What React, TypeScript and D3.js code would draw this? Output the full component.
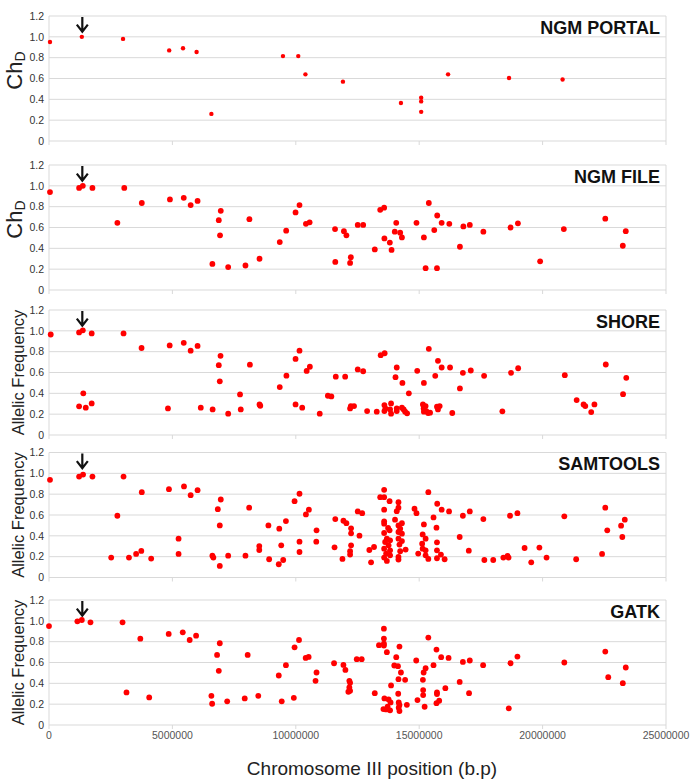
import * as d3 from 'd3';

// x positions in Mb along chromosome III, y = ChD / allelic frequency
const xTicks = [0, 5000000, 10000000, 15000000, 20000000, 25000000];
const yTicks = [0, 0.2, 0.4, 0.6, 0.8, 1.0, 1.2];
const arrowPos = 1.35;

const ngmPortal: [number, number][] = [
  [0.04, 0.95], [1.33, 1.0], [3.0, 0.98], [4.87, 0.87], [5.43, 0.89], [5.98, 0.855], [6.58, 0.26],
  [9.48, 0.815], [10.1, 0.815], [10.39, 0.64], [11.91, 0.57], [14.26, 0.365], [15.08, 0.415],
  [15.08, 0.38], [15.08, 0.28], [16.17, 0.64], [18.64, 0.605], [20.81, 0.59],
];

const ngmFile: [number, number][] = [
  [0.04, 0.94], [1.22, 0.98], [1.37, 1.0], [1.76, 0.98], [2.77, 0.645], [3.05, 0.98], [3.76, 0.835],
  [4.9, 0.87], [5.46, 0.885], [5.74, 0.815], [6.02, 0.855], [6.62, 0.25], [6.88, 0.67], [6.96, 0.76],
  [6.93, 0.525], [7.26, 0.22], [7.96, 0.235], [8.12, 0.68], [8.53, 0.3], [9.35, 0.46], [9.61, 0.57],
  [9.99, 0.745], [10.15, 0.815], [10.41, 0.635], [10.56, 0.65], [11.59, 0.585], [11.6, 0.27],
  [11.95, 0.565], [12.05, 0.525], [12.23, 0.315], [12.2, 0.26], [12.51, 0.625], [12.73, 0.625],
  [13.2, 0.39], [13.42, 0.77], [13.58, 0.79], [13.59, 0.495], [13.81, 0.455], [13.88, 0.385],
  [14.01, 0.56], [14.07, 0.645], [14.23, 0.55], [14.3, 0.505], [14.89, 0.645], [15.19, 0.505],
  [15.26, 0.21], [15.39, 0.835], [15.61, 0.575], [15.73, 0.715], [15.72, 0.21], [15.91, 0.645],
  [16.22, 0.635], [16.65, 0.415], [16.79, 0.61], [17.05, 0.625], [17.6, 0.56], [18.7, 0.6],
  [19.0, 0.64], [19.9, 0.275], [20.86, 0.585], [22.54, 0.685], [23.25, 0.425], [23.37, 0.565],
];

const shore: [number, number][] = [
  [0.07, 0.965], [1.22, 0.985], [1.37, 1.005], [1.73, 0.975], [3.02, 0.975], [3.75, 0.835],
  [4.89, 0.86], [5.46, 0.885], [5.74, 0.81], [6.02, 0.855], [6.88, 0.67], [6.95, 0.76], [6.92, 0.515],
  [8.14, 0.675], [9.35, 0.46], [9.62, 0.57], [9.99, 0.73], [10.15, 0.81], [10.44, 0.615],
  [10.57, 0.655], [11.62, 0.56], [12.0, 0.56],
  [1.39, 0.4], [1.22, 0.275], [1.49, 0.262], [1.73, 0.303], [4.82, 0.255], [6.15, 0.262],
  [6.63, 0.246], [7.26, 0.205], [7.74, 0.39], [7.77, 0.246], [8.53, 0.294], [8.56, 0.281],
  [9.99, 0.294], [10.26, 0.262], [10.97, 0.205], [11.3, 0.377], [11.44, 0.37],
  [12.51, 0.63], [12.73, 0.612], [13.44, 0.766], [13.6, 0.785], [14.09, 0.648], [14.04, 0.555],
  [14.32, 0.5], [14.58, 0.4], [14.92, 0.616], [15.19, 0.5], [15.39, 0.827], [15.65, 0.568],
  [15.76, 0.712], [15.91, 0.648], [16.25, 0.648], [16.65, 0.447], [16.77, 0.597], [17.09, 0.619],
  [17.63, 0.568], [18.72, 0.597], [19.01, 0.641], [18.37, 0.227], [20.9, 0.574], [21.38, 0.335],
  [21.66, 0.294], [21.73, 0.278], [22.1, 0.294], [21.97, 0.22], [22.56, 0.677], [23.26, 0.392],
  [23.39, 0.549],
  [12.23, 0.278], [12.36, 0.278], [12.2, 0.255], [12.89, 0.23], [13.28, 0.224], [13.59, 0.287],
  [13.59, 0.23], [13.63, 0.255], [13.86, 0.303], [13.82, 0.246], [13.86, 0.205], [14.09, 0.255],
  [14.09, 0.23], [14.3, 0.262], [14.37, 0.246], [14.43, 0.224], [14.51, 0.208], [15.15, 0.294],
  [15.18, 0.255], [15.26, 0.278], [15.29, 0.23], [15.36, 0.211], [15.44, 0.214], [15.19, 0.224],
  [15.72, 0.272], [15.83, 0.278], [15.76, 0.246], [16.34, 0.211],
];

const samtools: [number, number][] = [
  [0.04, 0.938], [1.22, 0.969], [1.38, 0.988], [1.76, 0.969], [2.77, 0.593], [3.02, 0.969],
  [2.52, 0.191], [3.24, 0.191], [3.53, 0.226], [3.74, 0.255], [3.76, 0.819], [4.14, 0.182],
  [4.86, 0.848], [5.25, 0.373], [5.25, 0.226], [5.47, 0.874], [5.74, 0.79], [6.02, 0.838],
  [6.62, 0.21], [6.66, 0.191], [6.84, 0.656], [6.96, 0.749], [6.92, 0.5], [6.92, 0.111],
  [7.26, 0.21], [7.96, 0.21], [8.11, 0.67], [8.52, 0.302], [8.52, 0.264], [8.89, 0.5],
  [8.92, 0.175], [9.33, 0.469], [9.41, 0.309], [9.31, 0.127], [9.49, 0.168], [9.6, 0.542],
  [9.95, 0.733], [10.15, 0.804], [10.15, 0.344], [10.15, 0.245], [10.41, 0.606], [10.53, 0.651],
  [10.84, 0.453], [10.83, 0.344], [11.6, 0.561], [11.57, 0.29], [11.89, 0.178], [11.93, 0.545],
  [12.05, 0.522],
  [12.24, 0.472], [12.24, 0.424], [12.24, 0.309], [12.2, 0.252], [12.2, 0.22], [12.51, 0.634],
  [12.69, 0.618], [12.58, 0.402], [12.98, 0.264], [13.17, 0.293], [13.05, 0.146], [13.42, 0.771],
  [13.58, 0.771], [13.58, 0.842], [13.8, 0.733], [13.58, 0.651], [13.58, 0.539], [13.58, 0.517],
  [13.74, 0.475], [13.8, 0.453], [13.58, 0.427], [13.69, 0.373], [13.82, 0.357], [13.62, 0.341],
  [13.76, 0.309], [13.58, 0.277], [13.82, 0.261], [13.66, 0.23], [13.58, 0.191], [13.69, 0.159],
  [13.82, 0.213], [14.02, 0.555], [14.09, 0.637], [14.16, 0.67], [14.16, 0.723], [14.3, 0.522],
  [14.16, 0.5], [14.23, 0.469], [14.16, 0.437], [14.3, 0.421], [14.16, 0.373], [14.3, 0.35],
  [14.2, 0.316], [14.23, 0.252], [14.16, 0.197], [14.16, 0.172], [14.45, 0.268], [14.81, 0.66],
  [14.89, 0.618], [15.19, 0.51], [15.14, 0.414], [15.26, 0.373], [15.12, 0.325], [15.14, 0.277],
  [15.26, 0.261], [14.96, 0.23], [15.26, 0.213], [15.37, 0.178], [15.37, 0.819], [15.58, 0.577],
  [15.73, 0.708], [15.91, 0.651], [16.21, 0.634], [15.7, 0.478], [15.72, 0.338], [15.72, 0.261],
  [15.88, 0.22], [15.72, 0.185], [16.03, 0.175], [16.64, 0.389], [16.77, 0.593], [17.05, 0.634],
  [17.01, 0.258], [17.6, 0.561], [17.64, 0.168], [18.0, 0.168], [18.41, 0.191], [18.58, 0.207],
  [18.62, 0.191], [18.68, 0.593], [18.98, 0.618], [19.27, 0.283], [19.54, 0.146], [19.87, 0.287],
  [20.16, 0.191], [20.88, 0.587], [21.36, 0.175], [22.41, 0.226], [22.54, 0.67], [22.62, 0.453],
  [23.18, 0.498], [23.23, 0.389], [23.33, 0.555],
];

const gatk: [number, number][] = [
  [0.0, 0.95], [1.15, 0.995], [1.33, 1.008], [1.68, 0.986], [2.98, 0.986], [3.7, 0.829],
  [3.14, 0.313], [4.06, 0.265], [4.85, 0.874], [5.42, 0.89], [5.7, 0.816], [5.96, 0.858],
  [6.58, 0.28], [6.61, 0.204], [6.81, 0.673], [6.92, 0.785], [6.88, 0.52], [7.22, 0.227],
  [7.93, 0.255], [8.05, 0.673], [8.48, 0.28], [9.31, 0.475], [9.43, 0.227], [9.6, 0.574],
  [9.92, 0.261], [9.95, 0.746], [10.13, 0.816], [10.4, 0.644], [10.52, 0.654], [10.84, 0.504],
  [10.8, 0.424], [11.55, 0.593], [11.93, 0.577], [12.01, 0.529],
  [12.17, 0.424], [12.2, 0.405], [12.17, 0.361], [12.2, 0.328], [12.13, 0.319], [12.47, 0.632],
  [12.67, 0.632], [13.2, 0.306], [13.37, 0.766], [13.57, 0.925], [13.57, 0.83], [13.57, 0.782],
  [13.57, 0.763], [13.69, 0.699], [13.99, 0.571], [14.14, 0.565], [14.07, 0.651], [14.2, 0.753],
  [14.26, 0.504], [14.16, 0.44], [14.43, 0.434], [13.86, 0.38], [14.15, 0.3], [13.59, 0.255],
  [13.76, 0.246], [13.84, 0.217], [13.72, 0.175], [13.55, 0.153], [13.66, 0.15], [13.82, 0.141],
  [14.17, 0.217], [14.2, 0.191], [14.17, 0.166], [14.2, 0.134], [14.5, 0.194], [14.88, 0.619],
  [15.37, 0.839], [15.26, 0.545], [15.18, 0.504], [15.15, 0.434], [15.16, 0.335], [15.16, 0.287],
  [14.93, 0.239], [15.22, 0.175], [15.58, 0.574], [15.7, 0.724], [15.89, 0.651], [16.19, 0.644],
  [15.72, 0.313], [15.72, 0.297], [16.06, 0.354], [15.81, 0.233], [15.7, 0.21], [16.64, 0.414],
  [16.77, 0.606], [17.05, 0.619], [17.02, 0.306], [17.59, 0.574], [18.63, 0.16], [18.7, 0.593],
  [18.98, 0.657], [20.88, 0.6], [22.54, 0.705], [22.66, 0.459], [23.25, 0.402], [23.37, 0.552],
];

const panelNames = ['NGM PORTAL', 'NGM FILE', 'SHORE', 'SAMTOOLS', 'GATK'];
const panelData = [ngmPortal, ngmFile, shore, samtools, gatk];
const panelIsChD = [true, true, false, false, false];

const W = 692;
const H = 783;
const left = 49;
const right = 666;
const panelBottoms = [141, 290, 435, 577.5, 725];
const panelH = 125;
const font = '"Liberation Sans", Arial, sans-serif';
const grid = '#d9d9d9';

const x = d3.scaleLinear().domain([0, 25000000]).range([left, right]);

function Panel({ idx }: { idx: number }) {
  const bottom = panelBottoms[idx];
  const y = d3.scaleLinear().domain([0, 1.2]).range([bottom, bottom - panelH]);
  const data = panelData[idx];
  const r = idx === 0 ? 2.2 : 2.9;
  const midY = bottom - panelH / 2;
  const ax = x(arrowPos * 1e6);
  const tip = y(1.05);

  return (
    <g>
      {yTicks.map((t) => (
        <line key={t} x1={left} x2={right} y1={y(t)} y2={y(t)} stroke={grid} strokeWidth={1} />
      ))}
      <line x1={left} x2={left} y1={y(0)} y2={y(1.2)} stroke={grid} />
      <line x1={right} x2={right} y1={y(0)} y2={y(1.2)} stroke={grid} />
      {xTicks.map((t) => (
        <line key={t} x1={x(t)} x2={x(t)} y1={y(0)} y2={y(0) + 4} stroke={grid} />
      ))}
      {yTicks.map((t) => (
        <text key={t} x={44} y={y(t)} dy="0.35em" textAnchor="end" fontSize={10.5} fill="#333" fontFamily={font}>
          {t === 0 ? '0' : t.toFixed(1)}
        </text>
      ))}
      {panelIsChD[idx] ? (
        <text transform={`translate(22,${midY - 8}) rotate(-90)`} textAnchor="middle" fontFamily={font} fill="#222" fontSize={22}>
          Ch<tspan fontSize={14} dy={3}>D</tspan>
        </text>
      ) : (
        <text transform={`translate(24,${midY}) rotate(-90)`} textAnchor="middle" fontFamily={font} fill="#222" fontSize={16.5}>
          Allelic Frequency
        </text>
      )}
      <text x={660} y={bottom - panelH + 17.5} textAnchor="end" fontFamily={font} fontWeight="bold" fontSize={18} fill="#111">
        {panelNames[idx]}
      </text>
      <path
        d={`M${ax},${y(1.19)}L${ax},${tip} M${ax - 5.5},${tip - 7}L${ax},${tip}L${ax + 5.5},${tip - 7}`}
        fill="none"
        stroke="#111"
        strokeWidth={2.2}
      />
      {data.map((d, i) => (
        <circle key={i} cx={x(d[0] * 1e6)} cy={y(d[1])} r={r} fill="#ff0000" />
      ))}
    </g>
  );
}

export default function App() {
  const last = panelBottoms[panelBottoms.length - 1];
  return (
    <svg width={W} height={H} style={{ position: 'absolute', left: 0, top: 0, background: '#fff' }}>
      {panelNames.map((_, i) => (
        <Panel key={i} idx={i} />
      ))}
      {xTicks.map((t) => (
        <text key={t} x={x(t)} y={last + 14} textAnchor="middle" fontSize={10.5} fill="#555" fontFamily={font}>
          {String(t)}
        </text>
      ))}
      <text x={(247 + 497) / 2} y={775} textAnchor="middle" fontSize={19} fill="#222" fontFamily={font}>
        Chromosome III position (b.p)
      </text>
    </svg>
  );
}
